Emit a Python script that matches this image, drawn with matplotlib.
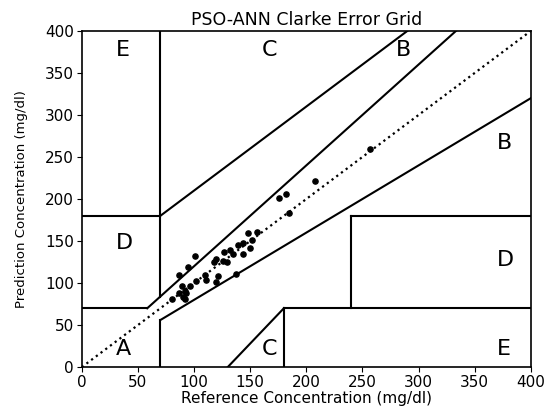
import numpy as np
import matplotlib
matplotlib.use("Agg")
import matplotlib.pyplot as plt

# =========================
# DATA
# =========================

ref_values = [
    257, 208, 176, 182, 185, 156, 148, 152, 144, 139,
    150, 132, 127, 144, 135, 101, 120, 118, 126, 129,
    95, 137, 110, 121, 87, 111, 102, 120, 89, 96,
    92, 87, 93, 90, 80, 92,
]
pred_values = [
    260, 221, 201, 206, 183, 161, 160, 151, 148, 145,
    142, 139, 137, 134, 134, 132, 129, 125, 126, 125,
    119, 111, 110, 109, 110, 104, 102, 101, 97, 96,
    90, 88, 88, 84, 81, 81,
]

zone_labels = ["A", "B", "B", "C", "C", "D", "D", "E", "E"]
zone_label_xy = [(30, 15), (370, 260), (280, 370), (160, 370), (160, 15),
                 (30, 140), (370, 120), (30, 370), (370, 15)]

# zone boundaries (x0, x1, y0, y1)
zone_lines = [
    (0, 175 / 3, 70, 70),
    (175 / 3, 400 / 1.2, 70, 400),
    (70, 70, 84, 400),
    (0, 70, 180, 180),
    (70, 290, 180, 400),
    (70, 70, 0, 56),
    (70, 400, 56, 320),
    (180, 180, 0, 70),
    (180, 400, 70, 70),
    (240, 240, 70, 180),
    (240, 400, 180, 180),
    (130, 180, 0, 70),
]

# =========================
# PLOT
# =========================

fig = plt.figure(figsize=(5.45, 4.07), dpi=100)
ax = fig.add_axes([0.150, 0.098, 0.824, 0.826])

ax.scatter(ref_values, pred_values, s=14, c="black", zorder=3)

ax.plot([0, 400], [0, 400], ":", c="black", linewidth=1.6)

for x0, x1, y0, y1 in zone_lines:
    ax.plot([x0, x1], [y0, y1], "-", c="black", linewidth=1.5)

for lab, (tx, ty) in zip(zone_labels, zone_label_xy):
    ax.text(tx, ty, lab, fontsize=16)

ax.set_xlim(0, 400)
ax.set_ylim(0, 400)
ax.set_xticks(np.arange(0, 401, 50))
ax.set_yticks(np.arange(0, 401, 50))
ax.tick_params(labelsize=11, pad=2)
for sp in ax.spines.values():
    sp.set_linewidth(1.2)

ax.set_xlabel("Reference Concentration (mg/dl)", fontsize=11, labelpad=1)
ax.set_ylabel("Prediction Concentration (mg/dl)", fontsize=9.5, labelpad=12)
ax.set_title("PSO-ANN Clarke Error Grid", fontsize=12.5, pad=4)

fig.savefig("out.png", dpi=100)
